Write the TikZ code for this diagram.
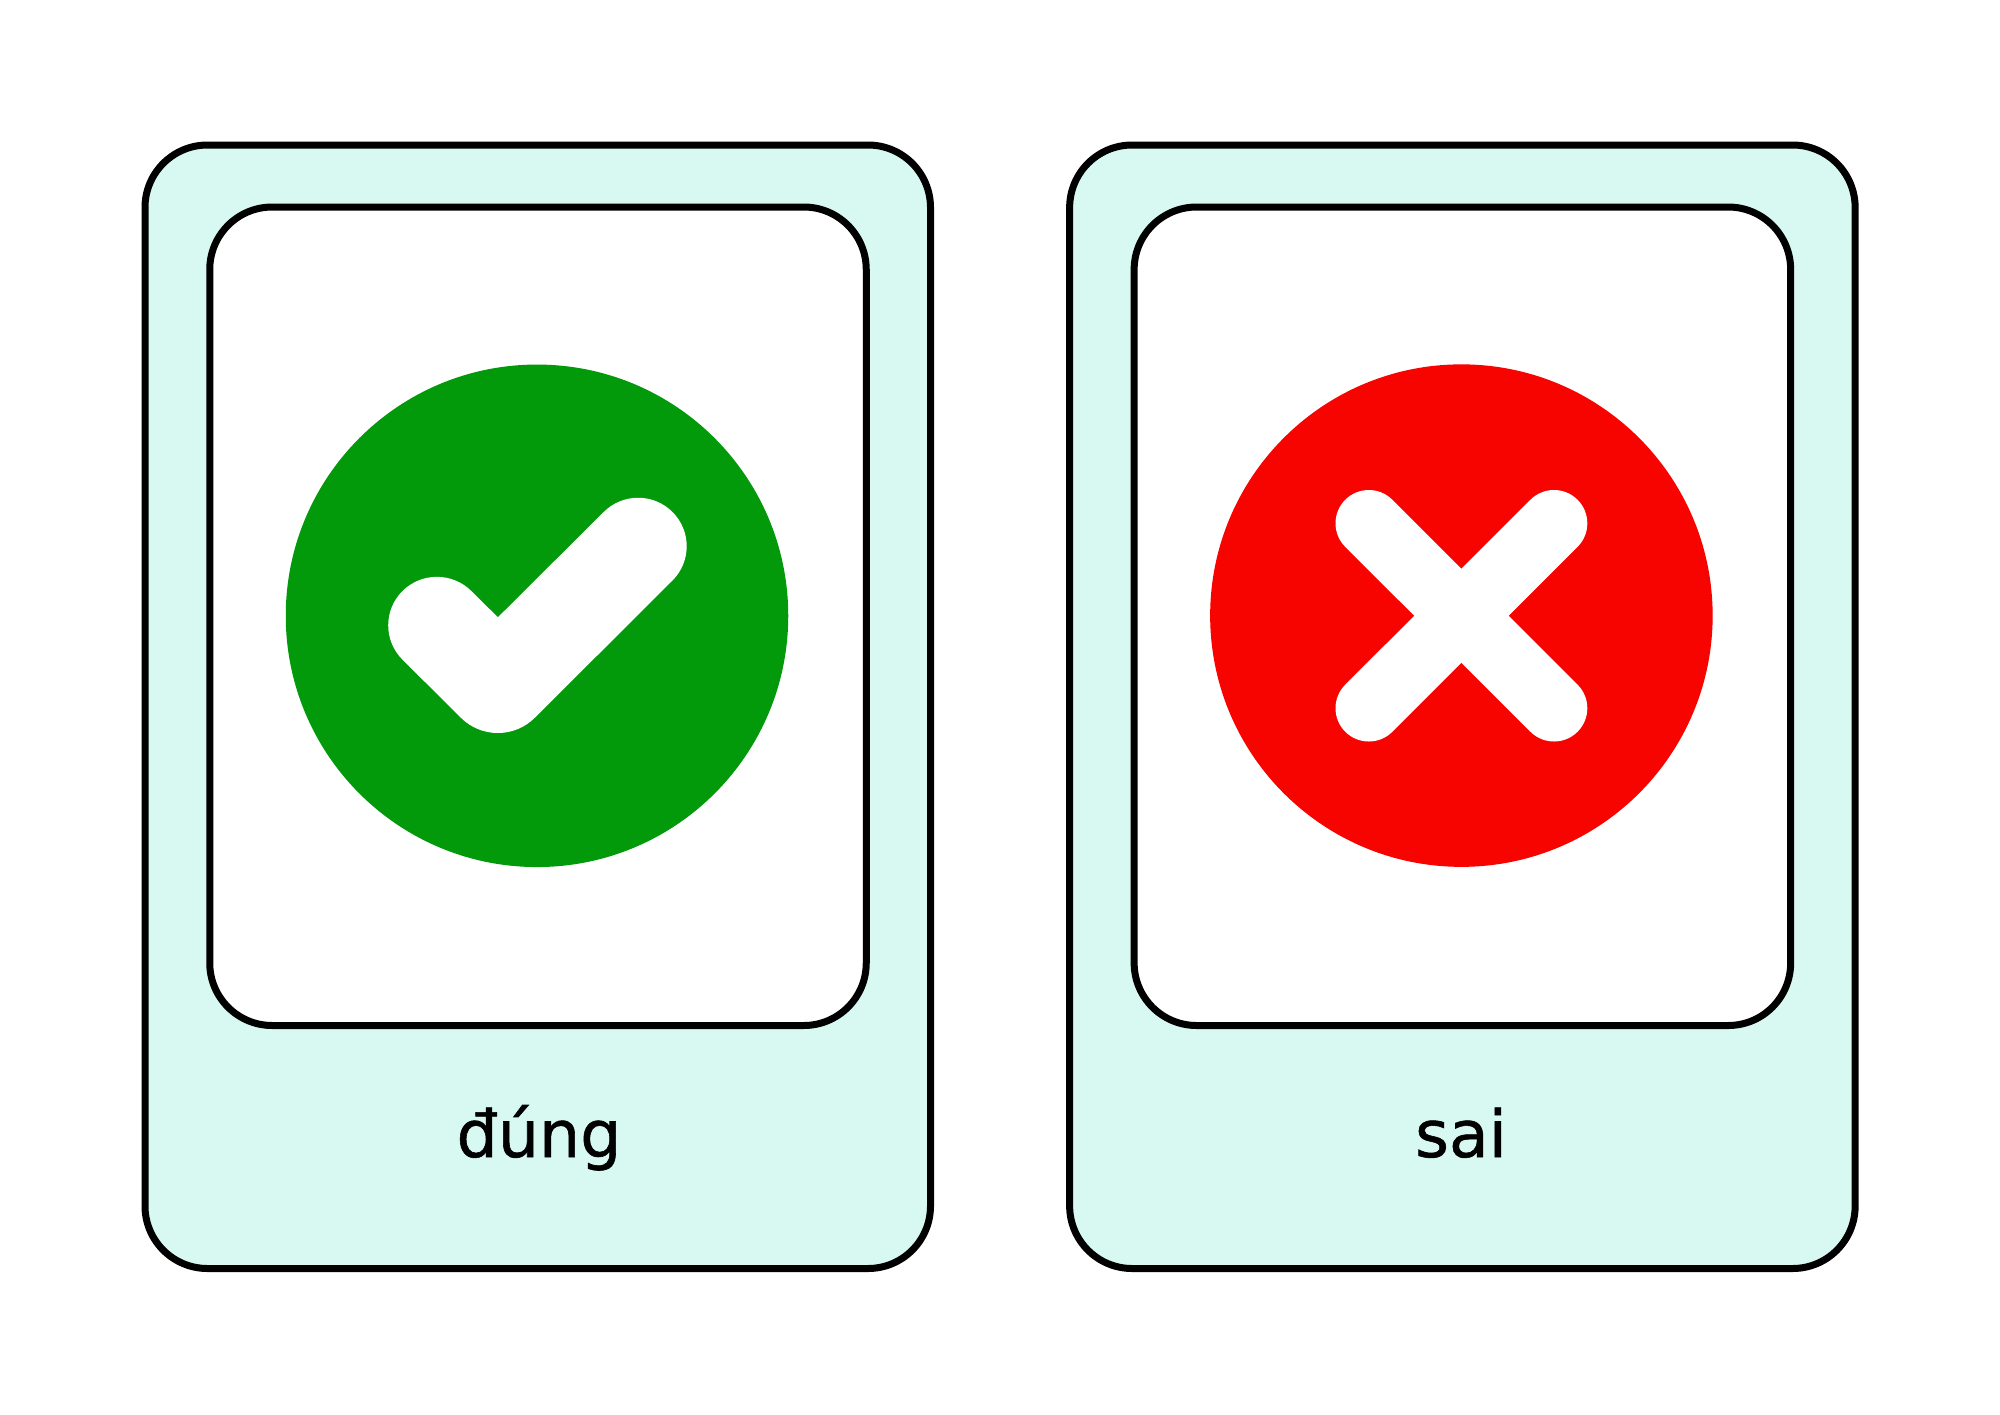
\documentclass[tikz,border=0pt]{standalone}
\usepackage{fontspec}
\setmainfont[RawFeature={embolden=0.9}]{DejaVu Sans}
\definecolor{cardmint}{RGB}{215,249,242}
\definecolor{okgreen}{RGB}{2,154,10}
\definecolor{badred}{RGB}{247,3,0}
\tikzset{
  panel/.style={draw=black,line width=7pt,rounded corners=62.5pt,inner sep=0pt,outer sep=0pt},
  outercard/.style={panel,fill=cardmint,minimum width=785.5pt,minimum height=1123.5pt},
  innercard/.style={panel,fill=white,minimum width=656.5pt,minimum height=818.5pt},
  disc/.style={circle,inner sep=0pt,outer sep=0pt,minimum size=502.5pt},
  word/.style={anchor=base,inner sep=0pt,font=\fontsize{65pt}{70pt}\selectfont},
  crossbar/.style={draw=white,line width=66.6pt,line cap=round}
}
\begin{document}
\begin{tikzpicture}[x=1pt,y=-1pt]
\useasboundingbox (0,0) rectangle (2000,1414);
\fill[white] (0,0) rectangle (2000,1414);
% left card
\node[outercard] (cardA) at (537.75,706.75) {};
\node[innercard] (faceA) at (538,616.25) {};
\node[disc,fill=okgreen] (discA) at (537,615.8) {};
\coordinate (tickN) at (497.9,617.3);
\coordinate (tickT1) at (638.2,477.7);
\coordinate (tickT2) at (706.8,546.3);
\coordinate (tickC) at (497.9,754.5);
\coordinate (tickL2) at (368.1,625.4);
\coordinate (tickL1) at (436.7,556.8);
\fill[white] (tickN) [rounded corners=48.5pt] -- (tickT1) -- (tickT2)
  [rounded corners=52pt] -- (tickC)
  [rounded corners=48.5pt] -- (tickL2) -- (tickL1) [sharp corners] -- cycle;
\node[word] (labelA) at (539,1157) {đúng};
% right card
\node[outercard] (cardB) at (1462.4,706.75) {};
\node[innercard] (faceB) at (1462.4,616.25) {};
\node[disc,fill=badred] (discB) at (1461.4,615.6) {};
\coordinate (crossTL) at (1368.8,523.3);
\coordinate (crossTR) at (1554,523.3);
\coordinate (crossBL) at (1368.8,708.2);
\coordinate (crossBR) at (1554,708.2);
\draw[crossbar] (crossTL) -- (crossBR);
\draw[crossbar] (crossTR) -- (crossBL);
\node[word] (labelB) at (1461,1157) {sai};
\end{tikzpicture}
\end{document}
